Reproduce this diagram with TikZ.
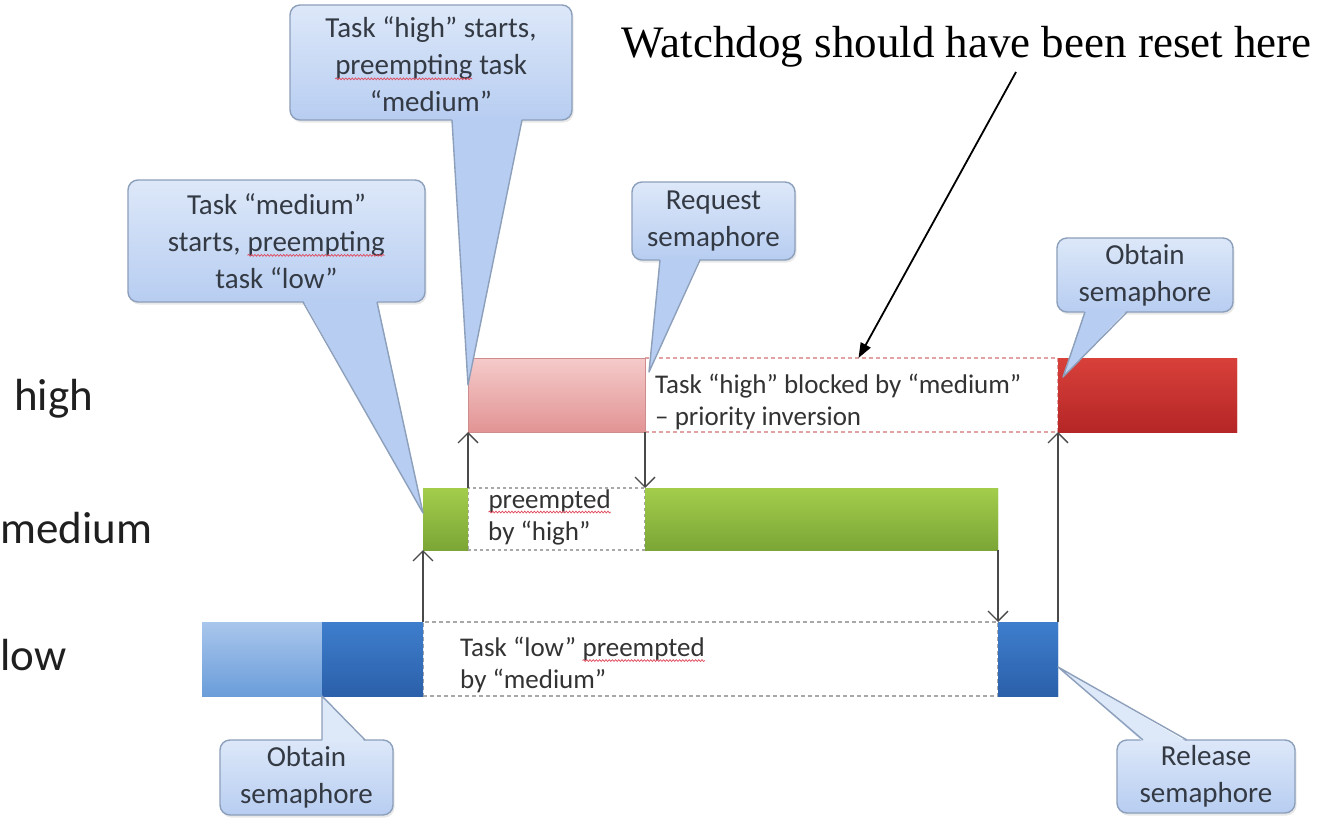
\documentclass[tikz,border=0pt]{standalone}
\usepackage{fontspec}
\setmainfont{Carlito}
\newfontfamily\wdserif{Liberation Serif}
\usetikzlibrary{arrows.meta,fit,shadows,decorations.pathmorphing}

% palette
\definecolor{pinkT}{HTML}{F5CACA}
\definecolor{pinkB}{HTML}{E29494}
\definecolor{pinkE}{HTML}{CF8C8C}
\definecolor{redT}{HTML}{D8403A}
\definecolor{redB}{HTML}{B52626}
\definecolor{grnT}{HTML}{A3CD4B}
\definecolor{grnB}{HTML}{7BA636}
\definecolor{ltbT}{HTML}{A9C6EC}
\definecolor{ltbB}{HTML}{6A9DDA}
\definecolor{dkbT}{HTML}{3E7ECD}
\definecolor{dkbB}{HTML}{2B60AA}
\definecolor{ctop}{HTML}{DDE8F9}
\definecolor{cbot}{HTML}{B7CDF1}
\definecolor{cedge}{HTML}{8C9FBB}
\definecolor{ctext}{HTML}{343A44}
\definecolor{gaptext}{HTML}{333333}
\definecolor{flowc}{HTML}{4A4A4A}
\definecolor{dashgrey}{HTML}{A8A8A8}
\definecolor{dashpink}{HTML}{E0A2A2}
\definecolor{squigc}{HTML}{E0485A}

\tikzset{
  bar/.style={inner sep=0pt, outer sep=0pt, anchor=north west, draw=none},
  pinkbar/.style={bar, top color=pinkT, bottom color=pinkB, draw=pinkE, line width=0.6pt},
  redbar/.style={bar, top color=redT, bottom color=redB},
  greenbar/.style={bar, top color=grnT, bottom color=grnB},
  ltbluebar/.style={bar, top color=ltbT, bottom color=ltbB},
  dkbluebar/.style={bar, top color=dkbT, bottom color=dkbB},
  gapbox/.style={inner sep=0pt, outer sep=0pt, fill=white, draw=dashgrey, line width=1.2pt, dash pattern=on 4pt off 3pt},
  gaplabel/.style={inner sep=0pt, anchor=west, align=left, text=gaptext, font=\fontsize{27}{32}\selectfont},
  flow/.style={draw=flowc, line width=1.3pt, -{Straight Barb[length=10pt,width=20pt,line width=1.3pt]}},
  callout/.style={draw=cedge, line width=1.4pt, rounded corners=10pt, top color=ctop, bottom color=cbot,
    inner sep=0pt, outer sep=0pt, anchor=north west,
    drop shadow={shadow xshift=1.5pt, shadow yshift=-2.5pt, opacity=0.18}},
  calltext/.style={inner sep=0pt, align=center, text=ctext, font=\fontsize{29}{37}\selectfont},
  ptredge/.style={draw=cedge, line width=1.4pt, line join=round},
  level/.style={inner sep=0pt, anchor=base west, text=black!88, font=\fontsize{45}{50}\selectfont},
  squig/.style={draw=squigc, line width=0.7pt, decorate, decoration={snake, amplitude=0.9pt, segment length=3.2pt}},
  note/.style={draw=black, line width=1.8pt, -{Triangle[length=15pt,width=11pt]}},
}

% word with a wavy red underline
\newcommand\wavyword[1]{\tikz[baseline=(sqw.base)]{\node[shape=rectangle, inner sep=0pt, outer sep=0pt,
  minimum width=0pt, minimum height=0pt, draw=none] (sqw) {#1};
  \draw[squig] ([yshift=-4pt]sqw.base west) -- ([yshift=-4pt]sqw.base east);}}

\begin{document}
\begin{tikzpicture}[x=1pt, y=-1pt]
\fill[white] (0,0) rectangle (1318,819);
\useasboundingbox (0,0) rectangle (1318,819);

% ---- task bars ----
\node[pinkbar,   minimum width=177, minimum height=74] (h1) at (468,358) {};
\node[redbar,    minimum width=179, minimum height=74] (h2) at (1058,358) {};
\node[greenbar,  minimum width=45,  minimum height=62] (m1) at (423,488) {};
\node[greenbar,  minimum width=353, minimum height=62] (m2) at (645,488) {};
\node[ltbluebar, minimum width=120, minimum height=74] (l1) at (202,622) {};
\node[dkbluebar, minimum width=101, minimum height=74] (l2) at (322,622) {};
\node[dkbluebar, minimum width=60,  minimum height=74] (l3) at (998,622) {};

% ---- idle stretches (dashed) ----
\node[gapbox, draw=dashpink, fit=(h1.north east)(h2.south west)] (hgap) {};
\node[gapbox, dash pattern=on 3pt off 3pt, fit=(m1.north east)(m2.south west)] (mgap) {};
\node[gapbox, fit=(l2.north east)(l3.south west)] (lgap) {};
% bars again on top of the dashed outlines
\node[pinkbar,   minimum width=177, minimum height=74] at (468,358) {};
\node[redbar,    minimum width=179, minimum height=74] at (1058,358) {};
\node[greenbar,  minimum width=45,  minimum height=62] at (423,488) {};
\node[greenbar,  minimum width=353, minimum height=62] at (645,488) {};
\node[dkbluebar, minimum width=101, minimum height=74] at (322,622) {};
\node[dkbluebar, minimum width=60,  minimum height=74] at (998,622) {};

\node[gaplabel] (htxt) at ([xshift=10pt,yshift=-7pt]hgap.west)
  {Task “high” blocked by “medium”\\– priority inversion};
\node[gaplabel] (mtxt) at ([xshift=20pt,yshift=2pt]mgap.west)
  {\wavyword{preempted}\\by “high”};
\node[gaplabel] (ltxt) at ([xshift=37pt,yshift=-6pt]lgap.west)
  {Task “low” \wavyword{preempted}\\by “medium”};

% ---- context switches ----
\draw[flow] (l2.north east) -- (m1.south west);
\draw[flow] (m1.north east) -- (h1.south west);
\draw[flow] (h1.south east) -- (m2.north west);
\draw[flow] (m2.south east) -- (l3.north west);
\draw[flow] (l3.north east) -- (h2.south west);

% ---- callouts ----
\node[callout, minimum width=282, minimum height=115] (c1) at (290,5) {};
\fill[cbot] ([xshift=162pt,yshift=2pt]c1.south west) -- ([yshift=-27pt]h1.north west)
  -- ([xshift=232pt,yshift=2pt]c1.south west) -- cycle;
\draw[ptredge] ([xshift=162pt]c1.south west) -- ([yshift=-27pt]h1.north west)
  -- ([xshift=232pt]c1.south west);
\node[calltext] (c1t) at ([yshift=-2pt]c1.center) {Task “high” starts,\\\wavyword{preempting} task\\“medium”};

\node[callout, minimum width=297, minimum height=122] (c2) at (128,180) {};
\fill[cbot] ([xshift=175pt,yshift=2pt]c2.south west) -- ([yshift=6pt]m1.west)
  -- ([xshift=249pt,yshift=2pt]c2.south west) -- cycle;
\draw[ptredge] ([xshift=175pt]c2.south west) -- ([yshift=6pt]m1.west)
  -- ([xshift=249pt]c2.south west);
\node[calltext] (c2t) at (c2.center) {Task “medium”\\starts, \wavyword{preempting}\\task “low”};

\node[callout, minimum width=163, minimum height=78] (c3) at (632,182) {};
\fill[cbot] ([xshift=28pt,yshift=2pt]c3.south west) -- ([xshift=4pt,yshift=-14pt]h1.north east)
  -- ([xshift=68pt,yshift=2pt]c3.south west) -- cycle;
\draw[ptredge] ([xshift=28pt]c3.south west) -- ([xshift=4pt,yshift=-14pt]h1.north east)
  -- ([xshift=68pt]c3.south west);
\node[calltext] (c3t) at (c3.center) {Request\\semaphore};

\node[callout, minimum width=176, minimum height=74] (c4) at (1057,238) {};
\fill[cbot] ([xshift=28pt,yshift=2pt]c4.south west) -- ([xshift=5pt,yshift=-19pt]h2.north west)
  -- ([xshift=70pt,yshift=2pt]c4.south west) -- cycle;
\draw[ptredge] ([xshift=28pt]c4.south west) -- ([xshift=5pt,yshift=-19pt]h2.north west)
  -- ([xshift=70pt]c4.south west);
\node[calltext] (c4t) at (c4.center) {Obtain\\semaphore};

\node[callout, minimum width=173, minimum height=75] (c5) at (220,740) {};
\fill[ctop] ([xshift=102pt,yshift=-2pt]c5.north west) -- (l1.south east)
  -- ([xshift=145pt,yshift=-2pt]c5.north west) -- cycle;
\draw[ptredge] ([xshift=102pt]c5.north west) -- (l1.south east)
  -- ([xshift=145pt]c5.north west);
\node[calltext] (c5t) at (c5.center) {Obtain\\semaphore};

\node[callout, minimum width=178, minimum height=73] (c6) at (1117,740) {};
\fill[ctop] ([xshift=26pt,yshift=-2pt]c6.north west) -- ([yshift=-8pt]l3.east)
  -- ([xshift=70pt,yshift=-2pt]c6.north west) -- cycle;
\draw[ptredge] ([xshift=26pt]c6.north west) -- ([yshift=-8pt]l3.east)
  -- ([xshift=70pt]c6.north west);
\node[calltext] (c6t) at (c6.center) {Release\\semaphore};

% ---- priority levels ----
\node[level] (lvhigh) at (14,410) {high};
\node[level] (lvmed)  at (0,543)  {medium};
\node[level] (lvlow)  at (0,670)  {low};

% ---- annotation ----
\node[inner sep=0pt, anchor=base east, font=\wdserif\fontsize{45}{50}\selectfont] (wd) at (1312,57)
  {Watchdog should have been reset here};
\coordinate (wdfoot) at (1016,72);
\draw[note] (wdfoot) -- ([xshift=7pt]hgap.north);
\end{tikzpicture}
\end{document}
